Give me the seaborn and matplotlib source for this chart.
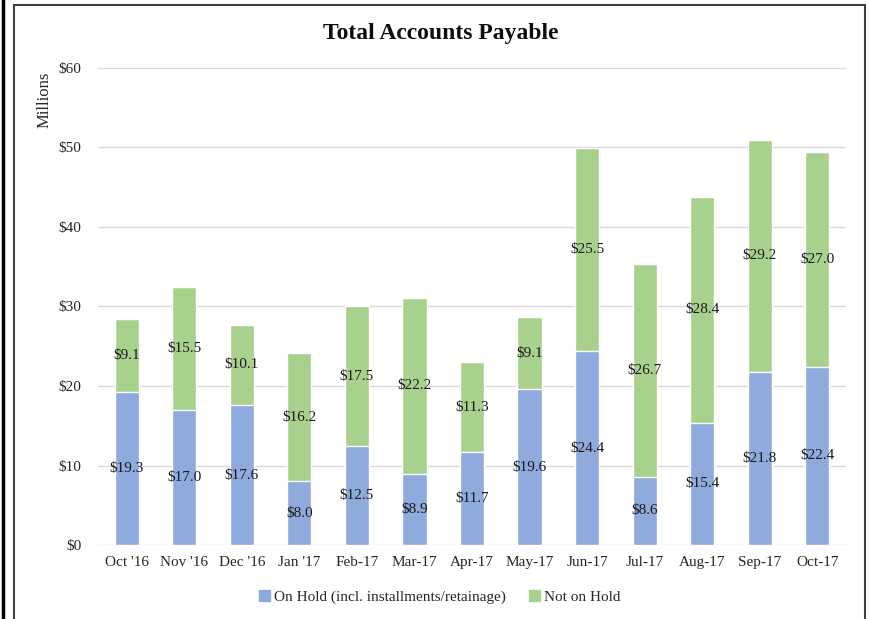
import matplotlib
matplotlib.use("Agg")
import matplotlib.pyplot as plt
import matplotlib.patches as mpatches
import seaborn as sns
import pandas as pd

# Data (millions)
months = ["Oct '16", "Nov '16", "Dec '16", "Jan '17", "Feb-17", "Mar-17", "Apr-17",
          "May-17", "Jun-17", "Jul-17", "Aug-17", "Sep-17", "Oct-17"]
on_hold = [19.3, 17.0, 17.6, 8.0, 12.5, 8.9, 11.7, 19.6, 24.4, 8.6, 15.4, 21.8, 22.4]
not_on_hold = [9.1, 15.5, 10.1, 16.2, 17.5, 22.2, 11.3, 9.1, 25.5, 26.7, 28.4, 29.2, 27.0]

blue = "#8FAADC"
green = "#A9D18E"

df = pd.DataFrame({"month": months, "on_hold": on_hold, "not_on_hold": not_on_hold})
df["total"] = df["on_hold"] + df["not_on_hold"]

sns.set_theme(style="white")
plt.rcParams["font.family"] = ["Liberation Serif", "DejaVu Serif"]

W, H = 869, 619
fig = plt.figure(figsize=(W / 100, H / 100), dpi=100)
ax = fig.add_axes([98 / W, (H - 545) / H, (846 - 98) / W, (545 - 68) / H])

# stacked bars: total in green, on-hold drawn over it in blue
sns.barplot(data=df, x="month", y="total", color=green, saturation=1, width=0.42, ax=ax, zorder=2)
sns.barplot(data=df, x="month", y="on_hold", color=blue, saturation=1, width=0.42, ax=ax, zorder=3)

for i, (a, b) in enumerate(zip(on_hold, not_on_hold)):
    ax.text(i, a / 2, f"${a:.1f}", ha="center", va="center", fontsize=11, color="#1A1A1A", zorder=5)
    ax.text(i, a + b / 2, f"${b:.1f}", ha="center", va="center", fontsize=11, color="#1A1A1A", zorder=5)

ax.set_ylim(0, 60)
ax.set_xlim(-0.5, len(months) - 0.5)
ax.set_yticks(range(0, 61, 10))
ax.set_yticklabels([f"${v}" for v in range(0, 61, 10)])
ax.yaxis.grid(True, color="#D9D9D9", linewidth=1)
ax.set_axisbelow(True)
for s in ax.spines.values():
    s.set_visible(False)
ax.tick_params(axis="both", length=0, labelsize=11, colors="#262626")
ax.tick_params(axis="y", pad=12)
ax.tick_params(axis="x", pad=8)
ax.set_xlabel("")
ax.set_ylabel("")

fig.text(45 / W, 1 - 100 / H, "Millions", rotation=90, ha="center", va="center",
         fontsize=12, color="#262626")
fig.text(441 / W, 1 - 33 / H, "Total Accounts Payable", ha="center", va="center",
         fontsize=17, fontweight="bold", color="#0D0D0D")

handles = [mpatches.Patch(color=blue, label="On Hold (incl. installments/retainage)"),
           mpatches.Patch(color=green, label="Not on Hold")]
fig.legend(handles=handles, loc="center", bbox_to_anchor=(440 / W, 1 - 597 / H), ncol=2,
           frameon=False, fontsize=11, handlelength=0.7, handleheight=0.7,
           handletextpad=0.3, columnspacing=1.5, labelcolor="#262626")

# chart area border and page edge
fig.add_artist(mpatches.Rectangle((14.5 / W, -0.01), (865 - 14.5) / W, (H - 5) / H + 0.01,
                                  transform=fig.transFigure, fill=False,
                                  edgecolor="#404040", linewidth=1.5))
fig.add_artist(plt.Line2D([2.5 / W, 2.5 / W], [0, 1], transform=fig.transFigure,
                          color="black", linewidth=2.5))

fig.savefig("out.png", dpi=100)
